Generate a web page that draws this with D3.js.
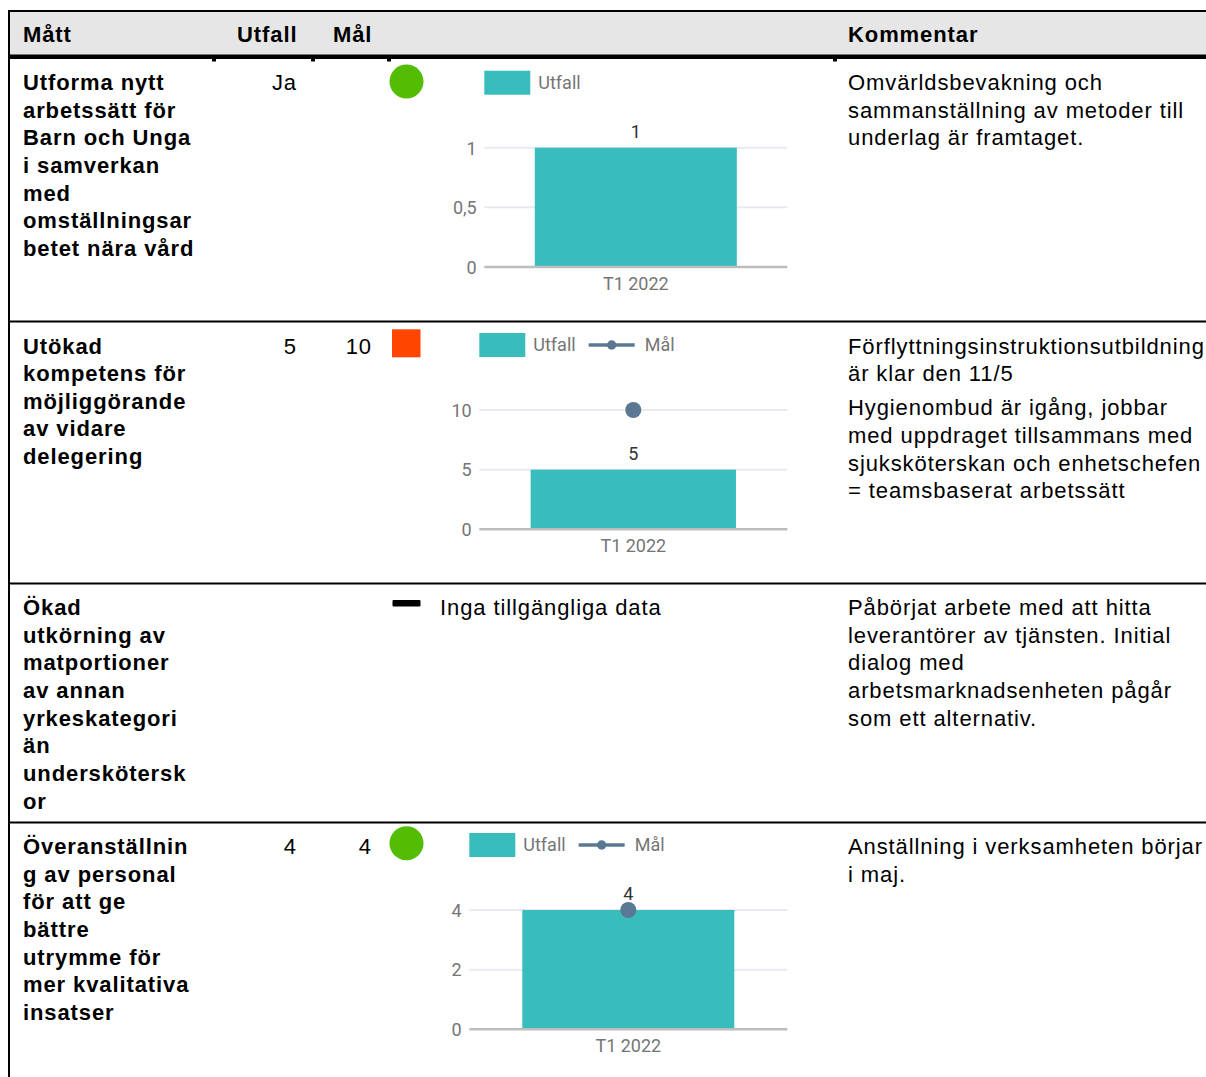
<!DOCTYPE html>
<html>
<head>
<meta charset="utf-8">
<script src="https://cdn.jsdelivr.net/npm/d3@7"></script>
<style>
  html, body { margin: 0; padding: 0; background: #ffffff; }
  svg { display: block; }
  .doc { font-family: "Liberation Sans", Arial, sans-serif; font-size: 22px; letter-spacing: 0.9px; fill: #000; }
  .bold { font-weight: bold; }
  .ch { font-family: Roboto, "Noto Sans", sans-serif; font-size: 18px; }
</style>
</head>
<body>
<svg id="page" width="1206" height="1077"></svg>
<script>
// ---------- DATA ----------
const headers = ["Mått", "Utfall", "Mål", "Kommentar"];
const measures = [
  ["Utforma nytt", "arbetssätt för", "Barn och Unga", "i samverkan", "med", "omställningsar", "betet nära vård"],
  ["Utökad", "kompetens för", "möjliggörande", "av vidare", "delegering"],
  ["Ökad", "utkörning av", "matportioner", "av annan", "yrkeskategori", "än", "underskötersk", "or"],
  ["Överanställnin", "g av personal", "för att ge", "bättre", "utrymme för", "mer kvalitativa", "insatser"]
];
const outcomeText = ["Ja", "5", "", "4"];
const targetText = ["", "10", "", "4"];
const status = ["ok", "bad", "nodata", "ok"];
const noDataText = "Inga tillgängliga data";
const comments = [
  [["Omvärldsbevakning och", "sammanställning av metoder till", "underlag är framtaget."]],
  [["Förflyttningsinstruktionsutbildning", "är klar den 11/5"],
   ["Hygienombud är igång, jobbar", "med uppdraget tillsammans med", "sjuksköterskan och enhetschefen", "= teamsbaserat arbetssätt"]],
  [["Påbörjat arbete med att hitta", "leverantörer av tjänsten. Initial", "dialog med", "arbetsmarknadsenheten pågår", "som ett alternativ."]],
  [["Anställning i verksamheten börjar", "i maj."]]
];
const categories = ["T1 2022"];
const outcomeValues = [1, 5, null, 4];
const targetValues = [null, 10, null, 4];
const yMax = [1, 10, null, 4];
const yTicks = [[0, 0.5, 1], [0, 5, 10], null, [0, 2, 4]];
const legendLabels = ["Utfall", "Mål"];

// ---------- LAYOUT ----------
const W = 1206, H = 1077;
const colX = { label: 23, outRight: 297, tgtRight: 372, icon: 406.5, comment: 848 };
const stubX = [212, 311, 387, 833];
const rowSeps = [321.5, 583.5, 822.5];
const firstBaseline = [90, 353.5, 615, 854];
const iconY = [81.5, 343.3, 603.3, 843.3];
const lineH = 27.65, paraGap = 6.4;
const chartTop = [147.7, 410, null, 910];
const plotLeft = [484.3, 479.3, null, 469.3];
const plotRight = 787.3, plotH = 119.3;

const C = {
  bar: "#38bcbc", target: "#5a7894", grid: "#e7eaef", base: "#bdbdbd",
  axisText: "#757575", valueText: "#333333",
  ok: "#52bd02", bad: "#ff4500", header: "#e6e6e6"
};

const svg = d3.select("#page");

// header background and borders
svg.append("rect").attr("x", 10).attr("y", 12).attr("width", W - 10).attr("height", 43).attr("fill", C.header);
svg.append("rect").attr("x", 8).attr("y", 10).attr("width", W - 8).attr("height", 2).attr("fill", "#000");
svg.append("rect").attr("x", 8).attr("y", 54.5).attr("width", W - 8).attr("height", 4.5).attr("fill", "#000");
svg.append("rect").attr("x", 8).attr("y", 10).attr("width", 2).attr("height", H - 10).attr("fill", "#000");
svg.selectAll("rect.stub").data(stubX).join("rect").attr("class", "stub")
  .attr("x", d => d).attr("y", 59).attr("width", 4).attr("height", 2.5).attr("fill", "#000");
svg.selectAll("rect.sep").data(rowSeps).join("rect").attr("class", "sep")
  .attr("x", 8).attr("y", d => d - 1).attr("width", W - 8).attr("height", 2).attr("fill", "#000");

// header text
const headerX = [23, 237, 333, 848];
svg.selectAll("text.hdr").data(headers).join("text").attr("class", "hdr doc bold")
  .attr("x", (d, i) => headerX[i]).attr("y", 42).text(d => d);

// rows
measures.forEach((lines, r) => {
  const g = svg.append("g");
  g.selectAll("text.lbl").data(lines).join("text").attr("class", "lbl doc bold")
    .attr("x", colX.label).attr("y", (d, i) => firstBaseline[r] + i * lineH).text(d => d);
  if (outcomeText[r]) g.append("text").attr("class", "doc").attr("text-anchor", "end")
    .attr("x", colX.outRight).attr("y", firstBaseline[r]).text(outcomeText[r]);
  if (targetText[r]) g.append("text").attr("class", "doc").attr("text-anchor", "end")
    .attr("x", colX.tgtRight).attr("y", firstBaseline[r]).text(targetText[r]);

  // status icon
  if (status[r] === "ok") {
    g.append("circle").attr("cx", colX.icon).attr("cy", iconY[r]).attr("r", 17).attr("fill", C.ok);
  } else if (status[r] === "bad") {
    g.append("rect").attr("x", colX.icon - 14.5).attr("y", iconY[r] - 14).attr("width", 28.5).attr("height", 28).attr("fill", C.bad);
  } else {
    g.append("rect").attr("x", colX.icon - 14).attr("y", iconY[r] - 3.3).attr("width", 28).attr("height", 6.6).attr("rx", 1).attr("fill", "#000");
    g.append("text").attr("class", "doc").attr("x", 440).attr("y", firstBaseline[r]).text(noDataText);
  }

  // comments
  let y = firstBaseline[r];
  comments[r].forEach((para, p) => {
    if (p > 0) y += paraGap;
    para.forEach(line => {
      g.append("text").attr("class", "doc").attr("x", colX.comment).attr("y", y).text(line);
      y += lineH;
    });
  });

  // chart
  if (outcomeValues[r] == null) return;
  const top = chartTop[r], left = plotLeft[r];
  const yS = d3.scaleLinear().domain([0, yMax[r]]).range([top + plotH, top]);
  const xS = d3.scaleBand().domain(categories).range([left, plotRight]).paddingInner(0).paddingOuter(0.25);
  const fmt = v => String(v).replace(".", ",");
  const cg = g.append("g");
  const cx = xS(categories[0]) + xS.bandwidth() / 2;

  // grid lines
  cg.selectAll("line.grid").data(yTicks[r].filter(t => t !== 0)).join("line")
    .attr("x1", left).attr("x2", plotRight).attr("y1", d => yS(d)).attr("y2", d => yS(d))
    .attr("stroke", C.grid).attr("stroke-width", 2);
  // y axis labels via d3 axis
  const yAxis = d3.axisLeft(yS).tickValues(yTicks[r]).tickFormat(fmt).tickSize(0).tickPadding(7.6);
  const ya = cg.append("g").attr("transform", `translate(${left},0)`).call(yAxis);
  ya.select(".domain").remove();
  ya.selectAll("text").attr("class", "ch").attr("fill", C.axisText).style("font-size", "18px")
    .style("font-family", "Roboto, sans-serif").attr("dy", "0.35em");

  // bar
  cg.selectAll("rect.bar").data(categories).join("rect")
    .attr("x", d => xS(d)).attr("width", xS.bandwidth())
    .attr("y", yS(outcomeValues[r])).attr("height", yS(0) - yS(outcomeValues[r]))
    .attr("fill", C.bar);
  // baseline
  cg.append("line").attr("x1", left).attr("x2", plotRight).attr("y1", yS(0)).attr("y2", yS(0))
    .attr("stroke", C.base).attr("stroke-width", 2.5);
  // x axis label
  const xAxis = d3.axisBottom(xS).tickSize(0).tickPadding(10);
  const xa = cg.append("g").attr("transform", `translate(0,${yS(0)})`).call(xAxis);
  xa.select(".domain").remove();
  xa.selectAll("text").attr("class", "ch").attr("fill", C.axisText).style("font-size", "18px")
    .style("font-family", "Roboto, sans-serif");

  // target point
  if (targetValues[r] != null) {
    cg.append("circle").attr("cx", cx)
      .attr("cy", yS(targetValues[r])).attr("r", 8).attr("fill", C.target);
  }
  // value label
  cg.append("text").attr("class", "ch").attr("text-anchor", "middle").attr("fill", C.valueText)
    .attr("x", cx)
    .attr("y", yS(outcomeValues[r]) - 16).attr("dy", "0.35em").text(fmt(outcomeValues[r]));

  // legend
  const ly = top - 65;
  const lg = cg.append("g");
  lg.append("rect").attr("x", left).attr("y", ly - 12).attr("width", 46).attr("height", 24).attr("fill", C.bar);
  const t1 = lg.append("text").attr("class", "ch").attr("fill", C.axisText)
    .attr("x", left + 54).attr("y", ly).attr("dy", "0.35em").text(legendLabels[0]);
  if (targetValues[r] != null) {
    const w1 = t1.node().getComputedTextLength();
    const lx = left + 54 + w1 + 13;
    lg.append("line").attr("x1", lx).attr("x2", lx + 46).attr("y1", ly).attr("y2", ly)
      .attr("stroke", C.target).attr("stroke-width", 3.3);
    lg.append("circle").attr("cx", lx + 23).attr("cy", ly).attr("r", 4.7).attr("fill", C.target);
    lg.append("text").attr("class", "ch").attr("fill", C.axisText)
      .attr("x", lx + 56).attr("y", ly).attr("dy", "0.35em").text(legendLabels[1]);
  }
});
</script>
</body>
</html>
